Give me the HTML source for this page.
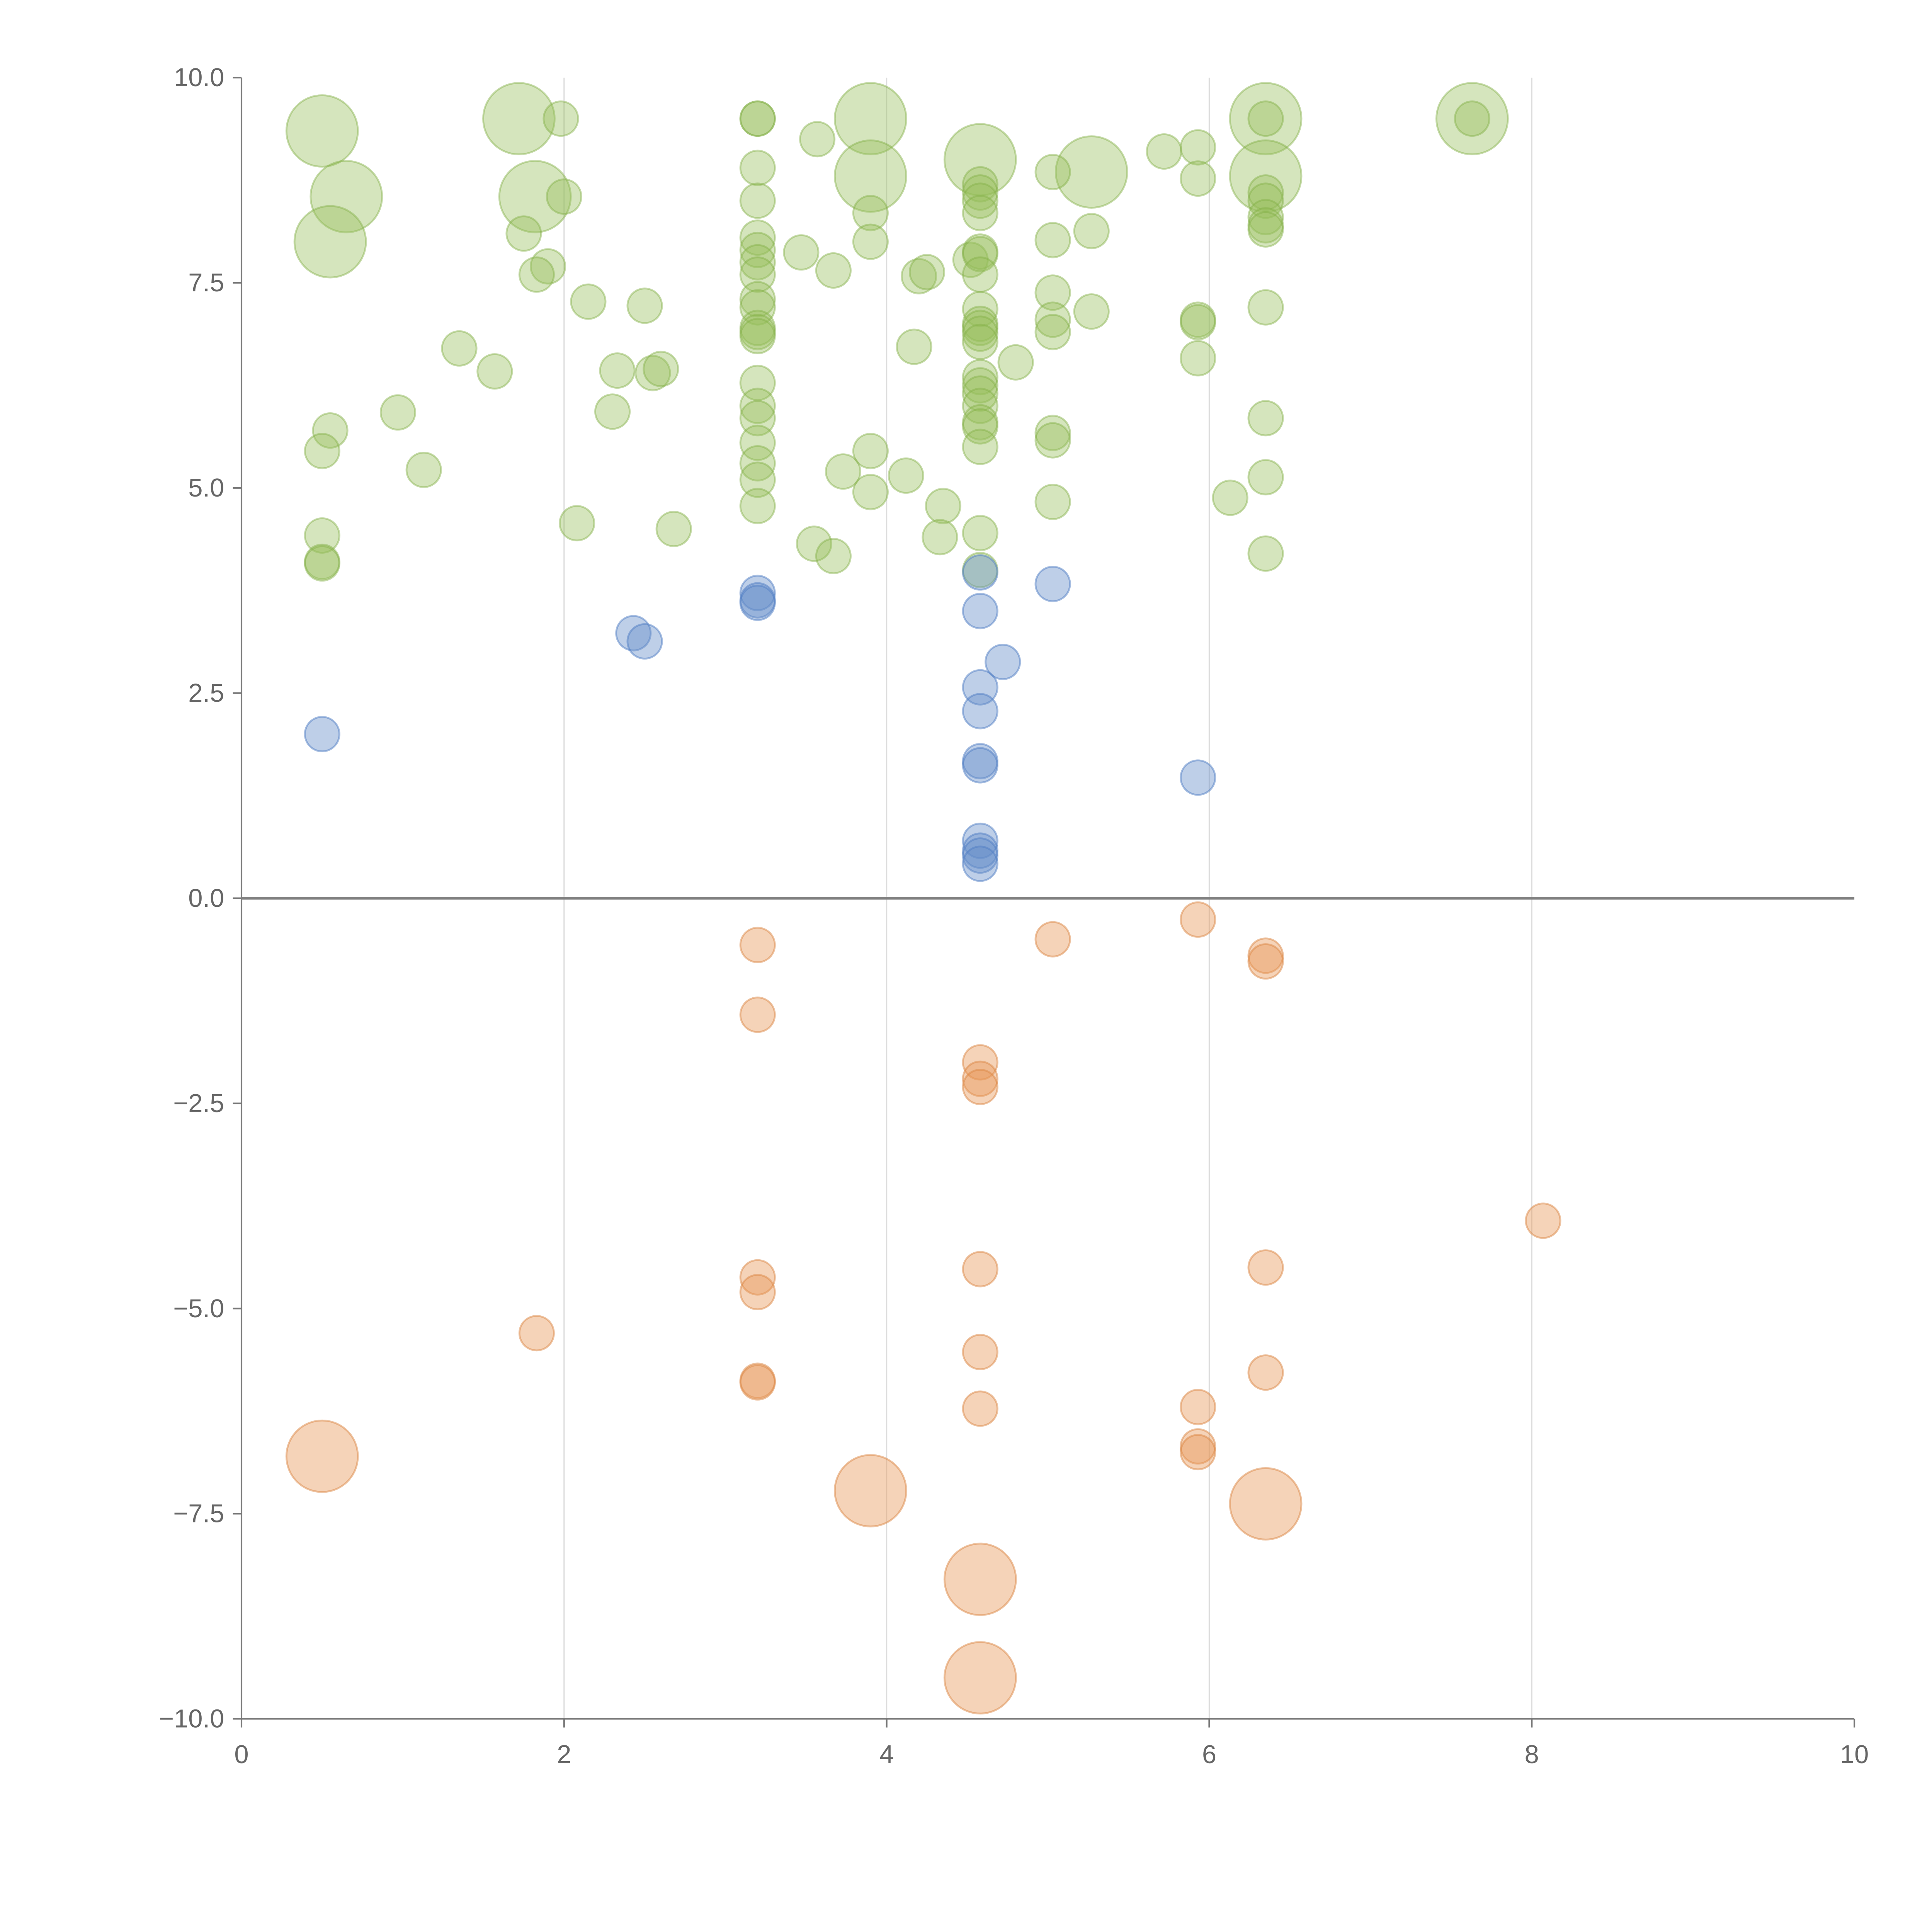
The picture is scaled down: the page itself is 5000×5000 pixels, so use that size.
<!DOCTYPE html>
<html><head><meta charset="utf-8"><style>
html,body{margin:0;padding:0;background:#fff;}
svg{display:block;}
text{font-family:"Liberation Sans",Arial,sans-serif;fill:#666;}
</style></head><body>
<svg id="chart" width="5000" height="5000" viewBox="0 0 1568 1568" xmlns="http://www.w3.org/2000/svg">
<g id="grid"></g>
<g id="axes"></g>
<g id="marks"></g>
</svg>
<script>
const xTicks=[0,2,4,6,8,10];
const yTicks=[10,7.5,5,2.5,0,-2.5,-5,-7.5,-10];
const yTickLabels=["10.0","7.5","5.0","2.5","0.0","\u22122.5","\u22125.0","\u22127.5","\u221210.0"];
const greenX=[0.5,0.65,0.55,1.72,1.82,3.9,3.9,4.58,5.27,6.35,6.35,7.63,
1.98,2.0,1.75,1.9,1.83,2.15,2.5,1.35,1.57,2.33,2.55,2.6,0.97,2.3,0.55,0.5,1.13,0.5,0.5,0.5,2.08,2.68,
3.2,3.2,3.2,3.2,3.2,3.2,3.2,3.2,3.2,3.2,3.2,3.2,3.2,3.2,3.2,3.2,3.2,3.2,3.2,3.2,
3.47,3.67,3.57,3.9,3.9,3.73,3.9,3.9,3.55,3.67,4.12,4.17,4.2,4.25,4.52,4.35,4.33,
4.58,4.58,4.58,4.58,4.58,4.58,4.58,4.58,4.58,4.58,4.58,4.58,4.58,4.58,4.58,4.58,4.58,4.58,4.58,4.58,4.58,
4.8,5.03,5.03,5.03,5.03,5.03,5.03,5.03,5.03,5.27,5.27,5.72,5.93,5.93,5.93,5.93,5.93,6.13,
6.35,6.35,6.35,6.35,6.35,6.35,6.35,6.35,6.35,6.35,7.63];
const greenY=[9.35,8.55,8.0,9.5,8.55,9.5,8.8,9.0,8.85,9.5,8.8,9.5,
9.5,8.55,8.1,7.7,7.6,7.27,7.22,6.7,6.42,6.43,6.4,6.45,5.92,5.93,5.7,5.45,5.22,4.42,4.1,4.08,4.57,4.5,
9.5,9.5,8.9,8.5,8.05,7.9,7.75,7.6,7.3,7.2,6.95,6.9,6.85,6.28,6.0,5.85,5.55,5.3,5.1,4.78,
7.87,7.65,9.25,8.35,8.0,5.2,5.45,4.95,4.32,4.17,5.15,6.72,7.58,7.63,7.78,4.78,4.4,
8.7,8.6,8.5,8.35,7.88,7.85,7.6,7.18,7.0,6.95,6.88,6.78,6.35,6.25,6.15,6.0,5.8,5.75,5.5,4.45,4.0,
6.53,8.85,8.02,7.38,7.05,6.9,5.67,5.58,4.83,8.13,7.15,9.1,9.15,8.77,7.05,7.02,6.58,4.88,
9.5,8.6,8.5,8.3,8.2,8.15,7.2,5.85,5.13,4.2,9.5];
const greenBig=[1,1,1,1,1,1,1,1,1,1,1,1];
const blueX=[0.5,2.43,2.5,3.2,3.2,3.2,4.58,4.58,4.58,4.58,4.72,4.58,4.58,4.58,4.58,4.58,4.58,5.03,5.93];
const blueY=[2.0,3.23,3.13,3.72,3.63,3.6,3.97,3.5,2.57,2.28,2.88,1.67,1.62,0.7,0.58,0.52,0.42,3.83,1.47];
const orangeX=[3.2,3.2,5.03,5.93,6.35,6.35,4.58,4.58,4.58,8.07,6.35,4.58,3.2,3.2,1.83,4.58,6.35,3.2,3.2,4.58,5.93,5.93,5.93,0.5,3.9,6.35,4.58,4.58];
const orangeY=[-0.57,-1.42,-0.5,-0.26,-0.7,-0.77,-2.0,-2.2,-2.3,-3.93,-4.5,-4.52,-4.62,-4.8,-5.3,-5.53,-5.78,-5.88,-5.9,-6.22,-6.2,-6.68,-6.75,-6.8,-7.22,-7.38,-8.3,-9.5];
const orangeBig=[0,0,0,0,0,0,0,0,0,0,0,0,0,0,0,0,0,0,0,0,0,0,0,1,1,1,1,1];

const X0=196,X1=1505,Y0=1395,Y1=63;
function sx(v){return X0+(v-0)/(10-0)*(X1-X0);}
function sy(v){return Y0-(v+10)/20*(Y0-Y1);}
const NS="http://www.w3.org/2000/svg";
function mk(tag,attrs,parent){const e=document.createElementNS(NS,tag);for(const k in attrs)e.setAttribute(k,attrs[k]);parent.appendChild(e);return e;}
const grid=document.getElementById('grid'),axes=document.getElementById('axes'),marks=document.getElementById('marks');

xTicks.forEach(t=>{
  if(t>0&&t<10){const g=mk('line',{x1:sx(t),x2:sx(t),y1:Y1,y2:Y0,stroke:'#dddddd','stroke-width':1},grid);
  
  }
  const tk=mk('line',{x1:sx(t),x2:sx(t),y1:Y0,y2:Y0+7,stroke:'#777','stroke-width':1.3},axes);
  
  
  const lb=mk('text',{x:sx(t),y:Y0+36,'font-size':21,'text-anchor':'middle'},axes);
  lb.textContent=String(t);
  
  
});
yTicks.forEach((t,i)=>{
  const tk=mk('line',{x1:X0-7,x2:X0,y1:sy(t),y2:sy(t),stroke:'#777','stroke-width':1.3},axes);
  
  
  const lb=mk('text',{x:X0-14,y:sy(t)+7,'font-size':21,'text-anchor':'end'},axes);
  lb.textContent=yTickLabels[i];
  
  
});
const ya=mk('line',{x1:X0,x2:X0,y1:Y1,y2:Y0,stroke:'#777','stroke-width':1.3},axes);


const xa=mk('line',{x1:X0,x2:X1,y1:Y0,y2:Y0,stroke:'#777','stroke-width':1.3},axes);


const zl=mk('line',{x1:X0,x2:X1,y1:sy(0),y2:sy(0),stroke:'#808080','stroke-width':2.2},axes);



function series(xs,ys,big,fill,stroke,name){
  xs.forEach((x,i)=>{
    const r=big[i]?29:14;
    const c=mk('circle',{cx:sx(x),cy:sy(ys[i]),r:r,fill:fill,stroke:stroke,'stroke-width':1.5},marks);
    
    
  });
}
series(greenX,greenY,greenBig,'rgba(150,190,90,0.4)','rgba(130,175,70,0.45)','green-bubble');
series(blueX,blueY,[],'rgba(100,140,200,0.42)','rgba(80,125,195,0.5)','blue-bubble');
series(orangeX,orangeY,orangeBig,'rgba(230,150,85,0.42)','rgba(220,135,70,0.5)','orange-bubble');
</script>
</body></html>
